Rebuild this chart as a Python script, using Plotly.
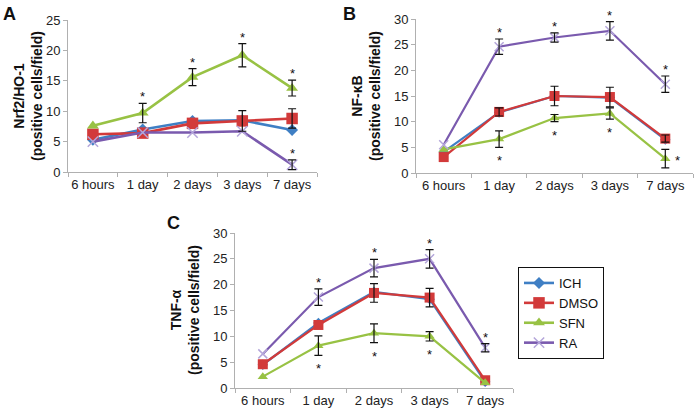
import plotly.graph_objects as go

W, H = 694, 409
FONT = "Arial, 'Liberation Sans', sans-serif"

categories = ["6 hours", "1 day", "2 days", "3 days", "7 days"]
series_names = ["ICH", "DMSO", "SFN", "RA"]

# Panel A: Nrf2/HO-1
ICH_A = [5.3, 7.0, 8.4, 8.5, 6.9]
DMSO_A = [6.2, 6.4, 8.0, 8.4, 8.8]
SFN_A = [7.6, 9.7, 15.6, 19.2, 13.8]
RA_A = [5.0, 6.5, 6.5, 6.7, 1.2]
ERR_DMSO_A = [0, 0, 0, 1.7, 1.6]
ERR_SFN_A = [0, 1.6, 1.4, 1.9, 1.3]
ERR_RA_A = [0, 0, 0, 0, 0.8]
STAR_SFN_A = ["", "above", "above", "above", "above"]
STAR_RA_A = ["", "", "", "", "above"]

# Panel B: NF-kB
ICH_B = [4.1, 11.8, 15.0, 14.7, 6.5]
DMSO_B = [3.1, 11.9, 15.0, 14.8, 6.7]
SFN_B = [4.6, 6.6, 10.7, 11.6, 2.8]
RA_B = [5.5, 24.6, 26.4, 27.7, 17.3]
ERR_DMSO_B = [0, 0.8, 1.9, 1.9, 0.7]
ERR_SFN_B = [0, 1.6, 0.7, 1.1, 1.8]
ERR_RA_B = [0, 1.5, 0.9, 1.8, 1.6]
STAR_SFN_B = ["", "below", "below", "below", "right"]
STAR_RA_B = ["", "above", "above", "above", "above"]

# Panel C: TNF-alpha
ICH_C = [4.5, 12.6, 18.6, 17.2, 1.2]
DMSO_C = [4.6, 12.2, 18.4, 17.5, 1.5]
SFN_C = [2.2, 8.2, 10.6, 10.0, 1.0]
RA_C = [6.6, 17.6, 23.2, 25.0, 7.8]
ERR_DMSO_C = [0, 0, 1.8, 1.8, 0]
ERR_SFN_C = [0, 1.9, 1.8, 0.9, 0]
ERR_RA_C = [0, 1.6, 1.7, 1.8, 0.8]
STAR_SFN_C = ["", "below", "below", "below", ""]
STAR_RA_C = ["", "above", "above", "above", "above"]

colors = {"ICH": "#3f7fc4", "DMSO": "#d23a3a", "SFN": "#98c244", "RA": "#7a5aae"}
markers = {
    "ICH": dict(symbol="diamond", size=8),
    "DMSO": dict(symbol="square", size=10),
    "SFN": dict(symbol="triangle-up", size=9),
    "RA": dict(symbol="x-thin", size=9, line=dict(width=1.5, color="#b4a6da")),
}

panels = [
    dict(axis="", data=[ICH_A, DMSO_A, SFN_A, RA_A],
         errs={"DMSO": ERR_DMSO_A, "SFN": ERR_SFN_A, "RA": ERR_RA_A},
         stars={"SFN": STAR_SFN_A, "RA": STAR_RA_A}, ymax=25,
         xdom=[68 / W, 317 / W], ydom=[1 - 172 / H, 1 - 20 / H], lw=2.6, msize=1.15,
         title="Nrf2/HO-1", tx=28, ty=96, letter="A", lx=1, ly=2),
    dict(axis="2", data=[ICH_B, DMSO_B, SFN_B, RA_B],
         errs={"DMSO": ERR_DMSO_B, "SFN": ERR_SFN_B, "RA": ERR_RA_B},
         stars={"SFN": STAR_SFN_B, "RA": STAR_RA_B}, ymax=30,
         xdom=[416 / W, 693 / W], ydom=[1 - 173 / H, 1 - 19 / H], lw=2.2, msize=1.0,
         title="NF-κB", tx=366, ty=96, letter="B", lx=341, ly=2),
    dict(axis="3", data=[ICH_C, DMSO_C, SFN_C, RA_C],
         errs={"DMSO": ERR_DMSO_C, "SFN": ERR_SFN_C, "RA": ERR_RA_C},
         stars={"SFN": STAR_SFN_C, "RA": STAR_RA_C}, ymax=30,
         xdom=[235 / W, 513 / W], ydom=[1 - 388 / H, 1 - 233 / H], lw=2.2, msize=1.0,
         title="TNF-α", tx=185, ty=310, letter="C", lx=165, ly=211),
]

fig = go.Figure()
annotations = []

for p in panels:
    xa, ya = "x" + p["axis"], "y" + p["axis"]
    for name, vals in zip(series_names, p["data"]):
        mk = dict(markers[name])
        mk["size"] = mk["size"] * p["msize"]
        fig.add_trace(go.Scatter(
            x=categories, y=vals, name=name, xaxis=xa, yaxis=ya,
            mode="lines+markers", line=dict(color=colors[name], width=p["lw"]),
            marker=dict(color=colors[name], **mk),
            legendgroup=name, showlegend=(p["axis"] == ""),
        ))
    for name, errs in p["errs"].items():
        vals = p["data"][series_names.index(name)]
        idx = [i for i, e in enumerate(errs) if e > 0]
        fig.add_trace(go.Scatter(
            x=[categories[i] for i in idx], y=[vals[i] for i in idx],
            xaxis=xa, yaxis=ya, mode="markers",
            marker=dict(size=1, opacity=0), showlegend=False, hoverinfo="skip",
            error_y=dict(type="data", array=[errs[i] for i in idx],
                         color="#111111", thickness=1.2, width=4),
        ))
    for name, stars in p["stars"].items():
        vals = p["data"][series_names.index(name)]
        errs = p["errs"][name]
        for i, s in enumerate(stars):
            if not s:
                continue
            if s == "above":
                annotations.append(dict(x=categories[i], y=vals[i] + errs[i], xref=xa, yref=ya,
                                        text="*", showarrow=False, yanchor="bottom", yshift=-3,
                                        font=dict(size=13, color="#111111", family=FONT)))
            elif s == "below":
                annotations.append(dict(x=categories[i], y=vals[i] - errs[i], xref=xa, yref=ya,
                                        text="*", showarrow=False, yanchor="top", yshift=-4,
                                        font=dict(size=13, color="#111111", family=FONT)))
            else:
                annotations.append(dict(x=categories[i], y=vals[i], xref=xa, yref=ya,
                                        text="*", showarrow=False, xanchor="left", xshift=8, yshift=-2,
                                        font=dict(size=13, color="#111111", family=FONT)))
    annotations.append(dict(x=p["tx"] / W, y=1 - p["ty"] / H, xref="paper", yref="paper",
                            text="<b>" + p["title"] + "</b><br><b>(positive cells/field)</b>",
                            textangle=-90, showarrow=False, xanchor="center", yanchor="middle",
                            font=dict(size=14, color="#111111", family=FONT)))
    annotations.append(dict(x=p["lx"] / W, y=1 - p["ly"] / H, xref="paper", yref="paper",
                            text="<b>" + p["letter"] + "</b>", showarrow=False,
                            xanchor="left", yanchor="top",
                            font=dict(size=18, color="#111111", family=FONT)))

    axis_common = dict(showline=True, linecolor="#b0b0b0", linewidth=1, ticks="outside",
                       tickcolor="#b0b0b0", ticklen=4, showgrid=False, zeroline=False,
                       automargin=False, tickangle=0,
                       tickfont=dict(size=13, color="#222222", family=FONT))
    fig.update_layout(**{
        "xaxis" + p["axis"]: dict(domain=p["xdom"], anchor=ya, type="category",
                                  categoryorder="array", categoryarray=categories,
                                  range=[-0.5, 4.5], tickson="boundaries", **axis_common),
        "yaxis" + p["axis"]: dict(domain=p["ydom"], anchor=xa, range=[0, p["ymax"]],
                                  dtick=5, **axis_common),
    })

fig.update_layout(
    width=W, height=H, margin=dict(l=0, r=0, t=0, b=0),
    paper_bgcolor="white", plot_bgcolor="white",
    font=dict(family=FONT, size=13, color="#111111"),
    annotations=annotations,
    legend=dict(x=518 / W, y=1 - 267 / H, xanchor="left", yanchor="top",
                bordercolor="#111111", borderwidth=1, bgcolor="white",
                font=dict(size=13, family=FONT, color="#111111"),
                tracegroupgap=0, itemwidth=30),
)

fig.write_html("out.html", config={"displayModeBar": False},
               post_script="document.body.style.margin='0px';document.body.style.overflow='hidden';")
